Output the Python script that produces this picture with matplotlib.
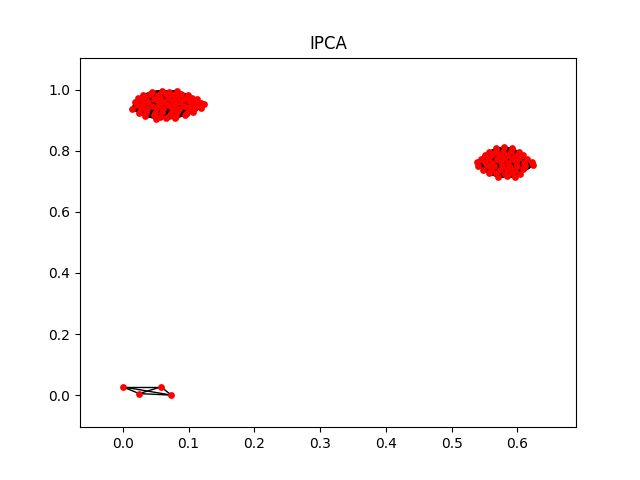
import itertools
import matplotlib
matplotlib.use("Agg")
import matplotlib.pyplot as plt
from matplotlib.collections import LineCollection

# Node positions, grouped by community
cluster_a_x = [0.045, 0.059, 0.071, 0.083,
               0.031, 0.041, 0.053, 0.065, 0.077, 0.089, 0.099,
               0.023, 0.035, 0.047, 0.057, 0.069, 0.083, 0.093, 0.105, 0.113,
               0.018, 0.029, 0.039, 0.053, 0.063, 0.077, 0.087, 0.101, 0.111, 0.119,
               0.021, 0.031, 0.045, 0.055, 0.069, 0.079, 0.093, 0.103, 0.115, 0.123,
               0.014, 0.027, 0.037, 0.051, 0.061, 0.075, 0.085, 0.099, 0.109, 0.119,
               0.025, 0.035, 0.049, 0.059, 0.073, 0.083, 0.097, 0.107,
               0.034, 0.047, 0.057, 0.071, 0.081, 0.095,
               0.051, 0.065, 0.079]
cluster_a_y = [0.994, 0.997, 0.993, 0.996,
               0.984, 0.987, 0.983, 0.986, 0.984, 0.987, 0.983,
               0.972, 0.975, 0.971, 0.974, 0.972, 0.975, 0.971, 0.974, 0.970,
               0.961, 0.964, 0.960, 0.963, 0.961, 0.964, 0.960, 0.963, 0.961, 0.958,
               0.949, 0.952, 0.948, 0.951, 0.949, 0.952, 0.948, 0.951, 0.949, 0.953,
               0.937, 0.940, 0.936, 0.939, 0.937, 0.940, 0.936, 0.939, 0.937, 0.941,
               0.925, 0.928, 0.924, 0.927, 0.925, 0.928, 0.924, 0.927,
               0.913, 0.916, 0.912, 0.915, 0.913, 0.916,
               0.905, 0.907, 0.906]

cluster_b_x = [0.568, 0.580, 0.592,
               0.556, 0.567, 0.578, 0.590, 0.602,
               0.550, 0.561, 0.572, 0.585, 0.596, 0.608,
               0.545, 0.556, 0.569, 0.580, 0.592, 0.603, 0.614,
               0.538, 0.550, 0.562, 0.575, 0.586, 0.598, 0.610, 0.622,
               0.540, 0.553, 0.564, 0.576, 0.589, 0.600, 0.612, 0.624,
               0.548, 0.560, 0.573, 0.584, 0.596, 0.608,
               0.556, 0.568, 0.581, 0.592, 0.604,
               0.570, 0.584, 0.596]
cluster_b_y = [0.809, 0.812, 0.808,
               0.797, 0.800, 0.796, 0.799, 0.797,
               0.786, 0.788, 0.785, 0.787, 0.784, 0.786,
               0.774, 0.776, 0.773, 0.775, 0.772, 0.775, 0.773,
               0.762, 0.764, 0.761, 0.763, 0.760, 0.763, 0.761, 0.762,
               0.750, 0.752, 0.749, 0.751, 0.748, 0.751, 0.749, 0.752,
               0.738, 0.740, 0.737, 0.739, 0.736, 0.739,
               0.726, 0.728, 0.725, 0.727, 0.725,
               0.714, 0.716, 0.713]

cluster_c_x = [0.000, 0.025, 0.058, 0.074]
cluster_c_y = [0.027, 0.005, 0.027, 0.000]
cluster_c_edges = [(0, 1), (0, 2), (0, 3), (1, 2), (1, 3), (2, 3)]

title = "IPCA"

fig, ax = plt.subplots(figsize=(6.4, 4.8), dpi=100)

segments = []
for xs, ys in [(cluster_a_x, cluster_a_y), (cluster_b_x, cluster_b_y)]:
    pts = list(zip(xs, ys))
    for i, j in itertools.combinations(range(len(pts)), 2):
        segments.append([pts[i], pts[j]])
pts_c = list(zip(cluster_c_x, cluster_c_y))
for i, j in cluster_c_edges:
    segments.append([pts_c[i], pts_c[j]])

lc = LineCollection(segments, colors="black", linewidths=1.0, zorder=1)
ax.add_collection(lc)

all_x = cluster_a_x + cluster_b_x + cluster_c_x
all_y = cluster_a_y + cluster_b_y + cluster_c_y
ax.scatter(all_x, all_y, s=24, c="red", zorder=2, linewidths=0)

ax.set_xlim(-0.065, 0.689)
ax.set_ylim(-0.105, 1.105)
ax.set_title(title)

fig.savefig("out.png", dpi=100)
